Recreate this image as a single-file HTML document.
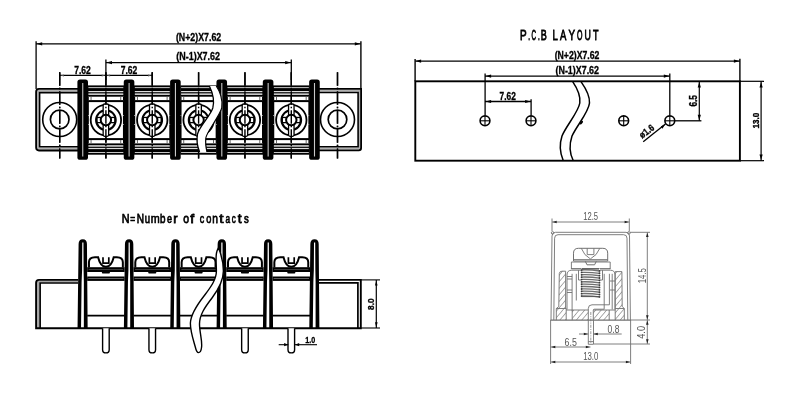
<!DOCTYPE html>
<html><head><meta charset="utf-8"><style>
html,body{margin:0;padding:0;background:#fff;width:800px;height:407px;overflow:hidden;}
svg{display:block;}
text{-webkit-font-smoothing:antialiased;}
svg{will-change:transform;}
</style></head><body>
<svg width="800" height="407" viewBox="0 0 800 407" font-family="Liberation Sans, sans-serif">
<rect width="800" height="407" fill="#fff"/>
<g id="top">
<line x1="59.70" y1="72.3" x2="59.70" y2="158.4" stroke="#000" stroke-width="1.4" stroke-dasharray="13.5 2 1.5 2"/>
<line x1="337.50" y1="72.3" x2="337.50" y2="158.4" stroke="#000" stroke-width="1.4" stroke-dasharray="13.5 2 1.5 2"/>
<line x1="105.90" y1="72.3" x2="105.90" y2="158.4" stroke="#000" stroke-width="1.4" stroke-dasharray="13.5 2 1.5 2"/>
<line x1="152.25" y1="72.3" x2="152.25" y2="158.4" stroke="#000" stroke-width="1.4" stroke-dasharray="13.5 2 1.5 2"/>
<line x1="198.60" y1="72.3" x2="198.60" y2="158.4" stroke="#000" stroke-width="1.4" stroke-dasharray="13.5 2 1.5 2"/>
<line x1="244.95" y1="72.3" x2="244.95" y2="158.4" stroke="#000" stroke-width="1.4" stroke-dasharray="13.5 2 1.5 2"/>
<line x1="291.30" y1="72.3" x2="291.30" y2="158.4" stroke="#000" stroke-width="1.4" stroke-dasharray="13.5 2 1.5 2"/>
<path d="M78 90.75 L37.9 90.75 L37.9 148.6 L78 148.6" fill="none" stroke="#b0b0b0" stroke-width="2.2"/>
<path d="M78 88.9 L39 88.9 Q36.1 88.9 36.1 91.8 L36.1 147.6 Q36.1 150.5 39 150.5 L78 150.5" fill="none" stroke="#000" stroke-width="1.8"/>
<path d="M78 92.6 L39.6 92.6 L39.6 146.7 L78 146.7" fill="none" stroke="#000" stroke-width="1.6"/>
<path d="M319 90.75 L359.6 90.75 L359.6 148.5 L319 148.5" fill="none" stroke="#b0b0b0" stroke-width="2.2"/>
<path d="M319 88.9 L361.1 88.9 L361.1 148 Q361.1 150.3 358.8 150.3 L319 150.3" fill="none" stroke="#000" stroke-width="1.8"/>
<path d="M319 92.5 L358.1 92.5 L358.1 146.7 L319 146.7" fill="none" stroke="#000" stroke-width="1.6"/>
<circle cx="59.7" cy="119.5" r="17" fill="none" stroke="#000" stroke-width="1.6"/>
<circle cx="59.7" cy="119.5" r="9.3" fill="none" stroke="#000" stroke-width="1.7"/>
<line x1="59.70" y1="72.3" x2="59.70" y2="158.4" stroke="#000" stroke-width="1.4" stroke-dasharray="13.5 2 1.5 2"/>
<circle cx="337.5" cy="119.5" r="17" fill="none" stroke="#000" stroke-width="1.6"/>
<circle cx="337.5" cy="119.5" r="9.3" fill="none" stroke="#000" stroke-width="1.7"/>
<line x1="337.50" y1="72.3" x2="337.50" y2="158.4" stroke="#000" stroke-width="1.4" stroke-dasharray="13.5 2 1.5 2"/>
<rect x="87.60" y="85.4" width="36.60" height="11.3" fill="#000"/>
<rect x="88.40" y="87.2" width="35.00" height="0.9" fill="#ddd"/>
<rect x="88.40" y="91.0" width="35.00" height="1.2" fill="#ddd"/>
<rect x="88.40" y="93.4" width="35.00" height="1.5" fill="#ddd"/>
<rect x="87.60" y="100.1" width="36.60" height="2" fill="#000"/>
<rect x="87.60" y="96.7" width="1.2" height="3.4" fill="#000"/>
<rect x="123.00" y="96.7" width="1.2" height="3.4" fill="#000"/>
<rect x="90.60" y="96.7" width="0.9" height="3.4" fill="#555"/>
<rect x="120.30" y="96.7" width="0.9" height="3.4" fill="#555"/>
<rect x="87.60" y="138.10" width="36.60" height="2" fill="#000"/>
<rect x="87.60" y="143.40" width="36.60" height="11.3" fill="#000"/>
<rect x="88.40" y="152.00" width="35.00" height="0.9" fill="#ddd"/>
<rect x="88.40" y="147.90" width="35.00" height="1.2" fill="#ddd"/>
<rect x="88.40" y="145.20" width="35.00" height="1.5" fill="#ddd"/>
<rect x="87.60" y="140.00" width="1.2" height="3.4" fill="#000"/>
<rect x="123.00" y="140.00" width="1.2" height="3.4" fill="#000"/>
<rect x="90.60" y="140.00" width="0.9" height="3.4" fill="#555"/>
<rect x="120.30" y="140.00" width="0.9" height="3.4" fill="#555"/>
<circle cx="105.90" cy="120.05" r="15.2" fill="none" stroke="#000" stroke-width="1.8"/>
<rect x="96.90" y="117.45" width="18" height="5.2" fill="#fff" stroke="#000" stroke-width="1.3"/>
<circle cx="105.90" cy="120.05" r="9.8" fill="none" stroke="#000" stroke-width="2.1"/>
<rect x="103.15" y="104" width="5.5" height="32.3" rx="1.5" fill="#fff" stroke="#000" stroke-width="1.3"/>
<circle cx="105.90" cy="120.05" r="5.2" fill="#fff" stroke="#000" stroke-width="2"/>
<line x1="88.00" y1="101.5" x2="88.00" y2="138.6" stroke="#000" stroke-width="1.7"/>
<rect x="87.50" y="115" width="1" height="1" fill="#fff"/>
<rect x="87.50" y="124" width="1" height="1" fill="#fff"/>
<line x1="123.80" y1="101.5" x2="123.80" y2="138.6" stroke="#000" stroke-width="1.7"/>
<rect x="123.30" y="115" width="1" height="1" fill="#fff"/>
<rect x="123.30" y="124" width="1" height="1" fill="#fff"/>
<line x1="105.90" y1="72.3" x2="105.90" y2="158.4" stroke="#000" stroke-width="1.4" stroke-dasharray="13.5 2 1.5 2"/>
<rect x="133.95" y="85.4" width="36.60" height="11.3" fill="#000"/>
<rect x="134.75" y="87.2" width="35.00" height="0.9" fill="#ddd"/>
<rect x="134.75" y="91.0" width="35.00" height="1.2" fill="#ddd"/>
<rect x="134.75" y="93.4" width="35.00" height="1.5" fill="#ddd"/>
<rect x="133.95" y="100.1" width="36.60" height="2" fill="#000"/>
<rect x="133.95" y="96.7" width="1.2" height="3.4" fill="#000"/>
<rect x="169.35" y="96.7" width="1.2" height="3.4" fill="#000"/>
<rect x="136.95" y="96.7" width="0.9" height="3.4" fill="#555"/>
<rect x="166.65" y="96.7" width="0.9" height="3.4" fill="#555"/>
<rect x="133.95" y="138.10" width="36.60" height="2" fill="#000"/>
<rect x="133.95" y="143.40" width="36.60" height="11.3" fill="#000"/>
<rect x="134.75" y="152.00" width="35.00" height="0.9" fill="#ddd"/>
<rect x="134.75" y="147.90" width="35.00" height="1.2" fill="#ddd"/>
<rect x="134.75" y="145.20" width="35.00" height="1.5" fill="#ddd"/>
<rect x="133.95" y="140.00" width="1.2" height="3.4" fill="#000"/>
<rect x="169.35" y="140.00" width="1.2" height="3.4" fill="#000"/>
<rect x="136.95" y="140.00" width="0.9" height="3.4" fill="#555"/>
<rect x="166.65" y="140.00" width="0.9" height="3.4" fill="#555"/>
<circle cx="152.25" cy="120.05" r="15.2" fill="none" stroke="#000" stroke-width="1.8"/>
<rect x="143.25" y="117.45" width="18" height="5.2" fill="#fff" stroke="#000" stroke-width="1.3"/>
<circle cx="152.25" cy="120.05" r="9.8" fill="none" stroke="#000" stroke-width="2.1"/>
<rect x="149.50" y="104" width="5.5" height="32.3" rx="1.5" fill="#fff" stroke="#000" stroke-width="1.3"/>
<circle cx="152.25" cy="120.05" r="5.2" fill="#fff" stroke="#000" stroke-width="2"/>
<line x1="134.35" y1="101.5" x2="134.35" y2="138.6" stroke="#000" stroke-width="1.7"/>
<rect x="133.85" y="115" width="1" height="1" fill="#fff"/>
<rect x="133.85" y="124" width="1" height="1" fill="#fff"/>
<line x1="170.15" y1="101.5" x2="170.15" y2="138.6" stroke="#000" stroke-width="1.7"/>
<rect x="169.65" y="115" width="1" height="1" fill="#fff"/>
<rect x="169.65" y="124" width="1" height="1" fill="#fff"/>
<line x1="152.25" y1="72.3" x2="152.25" y2="158.4" stroke="#000" stroke-width="1.4" stroke-dasharray="13.5 2 1.5 2"/>
<rect x="180.30" y="85.4" width="36.60" height="11.3" fill="#000"/>
<rect x="181.10" y="87.2" width="35.00" height="0.9" fill="#ddd"/>
<rect x="181.10" y="91.0" width="35.00" height="1.2" fill="#ddd"/>
<rect x="181.10" y="93.4" width="35.00" height="1.5" fill="#ddd"/>
<rect x="180.30" y="100.1" width="36.60" height="2" fill="#000"/>
<rect x="180.30" y="96.7" width="1.2" height="3.4" fill="#000"/>
<rect x="215.70" y="96.7" width="1.2" height="3.4" fill="#000"/>
<rect x="183.30" y="96.7" width="0.9" height="3.4" fill="#555"/>
<rect x="213.00" y="96.7" width="0.9" height="3.4" fill="#555"/>
<rect x="180.30" y="138.10" width="36.60" height="2" fill="#000"/>
<rect x="180.30" y="143.40" width="36.60" height="11.3" fill="#000"/>
<rect x="181.10" y="152.00" width="35.00" height="0.9" fill="#ddd"/>
<rect x="181.10" y="147.90" width="35.00" height="1.2" fill="#ddd"/>
<rect x="181.10" y="145.20" width="35.00" height="1.5" fill="#ddd"/>
<rect x="180.30" y="140.00" width="1.2" height="3.4" fill="#000"/>
<rect x="215.70" y="140.00" width="1.2" height="3.4" fill="#000"/>
<rect x="183.30" y="140.00" width="0.9" height="3.4" fill="#555"/>
<rect x="213.00" y="140.00" width="0.9" height="3.4" fill="#555"/>
<circle cx="198.60" cy="120.05" r="15.2" fill="none" stroke="#000" stroke-width="1.8"/>
<rect x="189.60" y="117.45" width="18" height="5.2" fill="#fff" stroke="#000" stroke-width="1.3"/>
<circle cx="198.60" cy="120.05" r="9.8" fill="none" stroke="#000" stroke-width="2.1"/>
<rect x="195.85" y="104" width="5.5" height="32.3" rx="1.5" fill="#fff" stroke="#000" stroke-width="1.3"/>
<circle cx="198.60" cy="120.05" r="5.2" fill="#fff" stroke="#000" stroke-width="2"/>
<line x1="180.70" y1="101.5" x2="180.70" y2="138.6" stroke="#000" stroke-width="1.7"/>
<rect x="180.20" y="115" width="1" height="1" fill="#fff"/>
<rect x="180.20" y="124" width="1" height="1" fill="#fff"/>
<line x1="216.50" y1="101.5" x2="216.50" y2="138.6" stroke="#000" stroke-width="1.7"/>
<rect x="216.00" y="115" width="1" height="1" fill="#fff"/>
<rect x="216.00" y="124" width="1" height="1" fill="#fff"/>
<line x1="198.60" y1="72.3" x2="198.60" y2="158.4" stroke="#000" stroke-width="1.4" stroke-dasharray="13.5 2 1.5 2"/>
<rect x="226.65" y="85.4" width="36.60" height="11.3" fill="#000"/>
<rect x="227.45" y="87.2" width="35.00" height="0.9" fill="#ddd"/>
<rect x="227.45" y="91.0" width="35.00" height="1.2" fill="#ddd"/>
<rect x="227.45" y="93.4" width="35.00" height="1.5" fill="#ddd"/>
<rect x="226.65" y="100.1" width="36.60" height="2" fill="#000"/>
<rect x="226.65" y="96.7" width="1.2" height="3.4" fill="#000"/>
<rect x="262.05" y="96.7" width="1.2" height="3.4" fill="#000"/>
<rect x="229.65" y="96.7" width="0.9" height="3.4" fill="#555"/>
<rect x="259.35" y="96.7" width="0.9" height="3.4" fill="#555"/>
<rect x="226.65" y="138.10" width="36.60" height="2" fill="#000"/>
<rect x="226.65" y="143.40" width="36.60" height="11.3" fill="#000"/>
<rect x="227.45" y="152.00" width="35.00" height="0.9" fill="#ddd"/>
<rect x="227.45" y="147.90" width="35.00" height="1.2" fill="#ddd"/>
<rect x="227.45" y="145.20" width="35.00" height="1.5" fill="#ddd"/>
<rect x="226.65" y="140.00" width="1.2" height="3.4" fill="#000"/>
<rect x="262.05" y="140.00" width="1.2" height="3.4" fill="#000"/>
<rect x="229.65" y="140.00" width="0.9" height="3.4" fill="#555"/>
<rect x="259.35" y="140.00" width="0.9" height="3.4" fill="#555"/>
<circle cx="244.95" cy="120.05" r="15.2" fill="none" stroke="#000" stroke-width="1.8"/>
<rect x="235.95" y="117.45" width="18" height="5.2" fill="#fff" stroke="#000" stroke-width="1.3"/>
<circle cx="244.95" cy="120.05" r="9.8" fill="none" stroke="#000" stroke-width="2.1"/>
<rect x="242.20" y="104" width="5.5" height="32.3" rx="1.5" fill="#fff" stroke="#000" stroke-width="1.3"/>
<circle cx="244.95" cy="120.05" r="5.2" fill="#fff" stroke="#000" stroke-width="2"/>
<line x1="227.05" y1="101.5" x2="227.05" y2="138.6" stroke="#000" stroke-width="1.7"/>
<rect x="226.55" y="115" width="1" height="1" fill="#fff"/>
<rect x="226.55" y="124" width="1" height="1" fill="#fff"/>
<line x1="262.85" y1="101.5" x2="262.85" y2="138.6" stroke="#000" stroke-width="1.7"/>
<rect x="262.35" y="115" width="1" height="1" fill="#fff"/>
<rect x="262.35" y="124" width="1" height="1" fill="#fff"/>
<line x1="244.95" y1="72.3" x2="244.95" y2="158.4" stroke="#000" stroke-width="1.4" stroke-dasharray="13.5 2 1.5 2"/>
<rect x="273.00" y="85.4" width="36.60" height="11.3" fill="#000"/>
<rect x="273.80" y="87.2" width="35.00" height="0.9" fill="#ddd"/>
<rect x="273.80" y="91.0" width="35.00" height="1.2" fill="#ddd"/>
<rect x="273.80" y="93.4" width="35.00" height="1.5" fill="#ddd"/>
<rect x="273.00" y="100.1" width="36.60" height="2" fill="#000"/>
<rect x="273.00" y="96.7" width="1.2" height="3.4" fill="#000"/>
<rect x="308.40" y="96.7" width="1.2" height="3.4" fill="#000"/>
<rect x="276.00" y="96.7" width="0.9" height="3.4" fill="#555"/>
<rect x="305.70" y="96.7" width="0.9" height="3.4" fill="#555"/>
<rect x="273.00" y="138.10" width="36.60" height="2" fill="#000"/>
<rect x="273.00" y="143.40" width="36.60" height="11.3" fill="#000"/>
<rect x="273.80" y="152.00" width="35.00" height="0.9" fill="#ddd"/>
<rect x="273.80" y="147.90" width="35.00" height="1.2" fill="#ddd"/>
<rect x="273.80" y="145.20" width="35.00" height="1.5" fill="#ddd"/>
<rect x="273.00" y="140.00" width="1.2" height="3.4" fill="#000"/>
<rect x="308.40" y="140.00" width="1.2" height="3.4" fill="#000"/>
<rect x="276.00" y="140.00" width="0.9" height="3.4" fill="#555"/>
<rect x="305.70" y="140.00" width="0.9" height="3.4" fill="#555"/>
<circle cx="291.30" cy="120.05" r="15.2" fill="none" stroke="#000" stroke-width="1.8"/>
<rect x="282.30" y="117.45" width="18" height="5.2" fill="#fff" stroke="#000" stroke-width="1.3"/>
<circle cx="291.30" cy="120.05" r="9.8" fill="none" stroke="#000" stroke-width="2.1"/>
<rect x="288.55" y="104" width="5.5" height="32.3" rx="1.5" fill="#fff" stroke="#000" stroke-width="1.3"/>
<circle cx="291.30" cy="120.05" r="5.2" fill="#fff" stroke="#000" stroke-width="2"/>
<line x1="273.40" y1="101.5" x2="273.40" y2="138.6" stroke="#000" stroke-width="1.7"/>
<rect x="272.90" y="115" width="1" height="1" fill="#fff"/>
<rect x="272.90" y="124" width="1" height="1" fill="#fff"/>
<line x1="309.20" y1="101.5" x2="309.20" y2="138.6" stroke="#000" stroke-width="1.7"/>
<rect x="308.70" y="115" width="1" height="1" fill="#fff"/>
<rect x="308.70" y="124" width="1" height="1" fill="#fff"/>
<line x1="291.30" y1="72.3" x2="291.30" y2="158.4" stroke="#000" stroke-width="1.4" stroke-dasharray="13.5 2 1.5 2"/>
<rect x="77.40" y="79.4" width="10.6" height="80.4" rx="2.6" fill="#000"/>
<rect x="82.20" y="83" width="1.1" height="73.5" fill="#c8c8c8"/>
<rect x="123.75" y="79.4" width="10.6" height="80.4" rx="2.6" fill="#000"/>
<rect x="128.55" y="83" width="1.1" height="73.5" fill="#c8c8c8"/>
<rect x="170.10" y="79.4" width="10.6" height="80.4" rx="2.6" fill="#000"/>
<rect x="174.90" y="83" width="1.1" height="73.5" fill="#c8c8c8"/>
<rect x="216.45" y="79.4" width="10.6" height="80.4" rx="2.6" fill="#000"/>
<rect x="221.25" y="83" width="1.1" height="73.5" fill="#c8c8c8"/>
<rect x="262.80" y="79.4" width="10.6" height="80.4" rx="2.6" fill="#000"/>
<rect x="267.60" y="83" width="1.1" height="73.5" fill="#c8c8c8"/>
<rect x="309.15" y="79.4" width="10.6" height="80.4" rx="2.6" fill="#000"/>
<rect x="313.95" y="83" width="1.1" height="73.5" fill="#c8c8c8"/>
<path d="M209.4 86 C 212.3 92, 214.8 100, 212.8 108 C 210.3 116, 199.5 126, 197.5 134 C 196.6 139, 197.5 147, 199.6 152 L206.9 152 C 206 148, 205.3 142, 205.8 138 C 206.5 132, 219.7 116, 221.7 108 C 223.2 100, 219.7 91, 216.2 86 Z" fill="#fff" stroke="none"/>
<path d="M209.4 86 C 212.3 92, 214.8 100, 212.8 108 C 210.3 116, 199.5 126, 197.5 134 C 196.6 139, 197.5 147, 199.6 152" fill="none" stroke="#000" stroke-width="1.3"/>
<path d="M206.9 152 C 206 148, 205.3 142, 205.8 138 C 206.5 132, 219.7 116, 221.7 108 C 223.2 100, 219.7 91, 216.2 86" fill="none" stroke="#000" stroke-width="1.1"/>
<line x1="36" y1="43.8" x2="360.6" y2="43.8" stroke="#000" stroke-width="1.3"/>
<polygon points="36.6,43.8 42.2,42.199999999999996 42.2,45.4" fill="#000" stroke="none"/>
<polygon points="360.4,43.8 354.79999999999995,42.199999999999996 354.79999999999995,45.4" fill="#000" stroke="none"/>
<line x1="36.1" y1="41.2" x2="36.1" y2="89" stroke="#000" stroke-width="1.3"/>
<line x1="360.9" y1="41.2" x2="360.9" y2="89" stroke="#000" stroke-width="1.4"/>
<line x1="105.9" y1="62.6" x2="291.3" y2="62.6" stroke="#000" stroke-width="1.3"/>
<polygon points="106.4,62.6 112.0,61.0 112.0,64.2" fill="#000" stroke="none"/>
<polygon points="290.8,62.6 285.2,61.0 285.2,64.2" fill="#000" stroke="none"/>
<line x1="105.9" y1="59.5" x2="105.9" y2="80" stroke="#000" stroke-width="1.3"/>
<line x1="291.3" y1="59.5" x2="291.3" y2="80" stroke="#000" stroke-width="1.3"/>
<line x1="59.5" y1="75.4" x2="152.3" y2="75.4" stroke="#000" stroke-width="1.2"/>
<polygon points="60.3,75.4 63.9,74.4 63.9,76.4" fill="#555" stroke="none"/>
<polygon points="105.3,75.4 101.7,74.4 101.7,76.4" fill="#555" stroke="none"/>
<polygon points="106.5,75.4 110.1,74.4 110.1,76.4" fill="#555" stroke="none"/>
<polygon points="151.7,75.4 148.1,74.4 148.1,76.4" fill="#555" stroke="none"/>
<line x1="59.6" y1="72.5" x2="59.6" y2="80" stroke="#000" stroke-width="1.1"/>
<line x1="152.3" y1="72.5" x2="152.3" y2="80" stroke="#000" stroke-width="1.1"/>
</g>
<text x="175.9" y="41.2" font-family="Liberation Sans, sans-serif" font-weight="bold" font-size="10.2" stroke="#000" stroke-width="0.3" textLength="45.3" lengthAdjust="spacingAndGlyphs">(N+2)X7.62</text>
<text x="176.3" y="60.4" font-family="Liberation Sans, sans-serif" font-weight="bold" font-size="10.2" stroke="#000" stroke-width="0.3" textLength="43.7" lengthAdjust="spacingAndGlyphs">(N-1)X7.62</text>
<text x="74.2" y="73.9" font-family="Liberation Sans, sans-serif" font-weight="bold" font-size="10.2" stroke="#000" stroke-width="0.3" textLength="16.6" lengthAdjust="spacingAndGlyphs">7.62</text>
<text x="120.7" y="73.9" font-family="Liberation Sans, sans-serif" font-weight="bold" font-size="10.2" stroke="#000" stroke-width="0.3" textLength="16.6" lengthAdjust="spacingAndGlyphs">7.62</text>
<g id="pcb" stroke="#000" fill="none">
<rect x="415.3" y="81.3" width="324.6" height="79.4" stroke-width="1.9"/>
<line x1="740" y1="81.3" x2="764" y2="81.3" stroke-width="1.2"/>
<line x1="740" y1="160.7" x2="764" y2="160.7" stroke-width="1.2"/>
<line x1="415.3" y1="61.1" x2="739.9" y2="61.1" stroke-width="1.3"/>
<line x1="415.1" y1="59" x2="415.1" y2="81.3" stroke-width="1.4"/>
<line x1="739.9" y1="58.8" x2="739.9" y2="81.3" stroke-width="1.4"/>
<line x1="485" y1="76.1" x2="669.8" y2="76.1" stroke-width="1.3"/>
<line x1="485.1" y1="73.5" x2="485.1" y2="115.5" stroke-width="1.3"/>
<line x1="669.8" y1="73.5" x2="669.8" y2="115.5" stroke-width="1.3"/>
<line x1="485" y1="101.5" x2="531.1" y2="101.5" stroke-width="1.3"/>
<line x1="531.1" y1="99.2" x2="531.1" y2="115.5" stroke-width="1.3"/>
<circle cx="485.0" cy="120.8" r="4.9" stroke-width="1.6"/>
<line x1="480.2" y1="120.8" x2="489.8" y2="120.8" stroke-width="1.1"/>
<line x1="485.0" y1="116.0" x2="485.0" y2="125.6" stroke-width="1.1"/>
<circle cx="531.0" cy="120.8" r="4.9" stroke-width="1.6"/>
<line x1="526.2" y1="120.8" x2="535.8" y2="120.8" stroke-width="1.1"/>
<line x1="531.0" y1="116.0" x2="531.0" y2="125.6" stroke-width="1.1"/>
<circle cx="623.7" cy="120.8" r="4.9" stroke-width="1.6"/>
<line x1="618.9000000000001" y1="120.8" x2="628.5" y2="120.8" stroke-width="1.1"/>
<line x1="623.7" y1="116.0" x2="623.7" y2="125.6" stroke-width="1.1"/>
<circle cx="669.8" cy="120.8" r="4.9" stroke-width="1.6"/>
<line x1="665.0" y1="120.8" x2="674.5999999999999" y2="120.8" stroke-width="1.1"/>
<line x1="669.8" y1="116.0" x2="669.8" y2="125.6" stroke-width="1.1"/>
<line x1="675" y1="120.8" x2="701.4" y2="120.8" stroke-width="1.3"/>
<line x1="699.3" y1="81.3" x2="699.3" y2="120.8" stroke-width="1.2"/>
<line x1="761.1" y1="81.3" x2="761.1" y2="160.7" stroke-width="1.2"/>
<path d="M572.7 81.6 C 577 88, 581 95, 579.8 103 C 578.5 112, 566 126, 562 136 C 559 145, 560 153, 563.2 160.5" stroke-width="1.5"/>
<path d="M581 81.6 C 585.5 88, 590 95, 589.5 103 C 588.8 112, 576.5 126, 572 136 C 569 145, 569.5 153, 573.2 160.5" stroke-width="1.5"/>
<ellipse cx="581.4" cy="122.6" rx="1.1" ry="2.2" transform="rotate(40 581.4 122.6)" fill="#000" stroke="none"/>
<line x1="665.5" y1="124.1" x2="643.2" y2="141.8" stroke-width="1.3"/>
</g>
<polygon points="415.5,61.1 421.1,59.5 421.1,62.7" fill="#000" stroke="none"/>
<polygon points="739.5,61.1 733.9,59.5 733.9,62.7" fill="#000" stroke="none"/>
<polygon points="485.5,76.1 491.1,74.5 491.1,77.69999999999999" fill="#000" stroke="none"/>
<polygon points="669.4,76.1 663.8,74.5 663.8,77.69999999999999" fill="#000" stroke="none"/>
<polygon points="485.5,101.5 491.1,99.9 491.1,103.1" fill="#000" stroke="none"/>
<polygon points="530.7,101.5 525.1,99.9 525.1,103.1" fill="#000" stroke="none"/>
<polygon points="699.3,81.9 697.6999999999999,87.5 700.9,87.5" fill="#000" stroke="none"/>
<polygon points="699.3,120.39999999999999 697.6999999999999,114.8 700.9,114.8" fill="#000" stroke="none"/>
<polygon points="761.1,81.9 759.5,87.5 762.7,87.5" fill="#000" stroke="none"/>
<polygon points="761.1,160.1 759.5,154.5 762.7,154.5" fill="#000" stroke="none"/>
<polygon points="665.3,124.1 660.8,126.6 662.5,128.7" fill="#000"/>
<text transform="translate(520.08,39.7) scale(0.711,1)" font-family="Liberation Sans, sans-serif" font-size="14" stroke="#000" stroke-width="0.8" >P</text>
<text transform="translate(528.22,39.7) scale(0.450,1)" font-family="Liberation Sans, sans-serif" font-size="14" stroke="#000" stroke-width="0.8" >.</text>
<text transform="translate(531.38,39.7) scale(0.451,1)" font-family="Liberation Sans, sans-serif" font-size="14" stroke="#000" stroke-width="0.8" >C</text>
<text transform="translate(537.92,39.7) scale(0.450,1)" font-family="Liberation Sans, sans-serif" font-size="14" stroke="#000" stroke-width="0.8" >.</text>
<text transform="translate(540.86,39.7) scale(0.644,1)" font-family="Liberation Sans, sans-serif" font-size="14" stroke="#000" stroke-width="0.8" >B</text>
<text transform="translate(552.42,39.7) scale(0.680,1)" font-family="Liberation Sans, sans-serif" font-size="14" stroke="#000" stroke-width="0.8" >L</text>
<text transform="translate(560.08,39.7) scale(0.679,1)" font-family="Liberation Sans, sans-serif" font-size="14" stroke="#000" stroke-width="0.8" >A</text>
<text transform="translate(568.48,39.7) scale(0.699,1)" font-family="Liberation Sans, sans-serif" font-size="14" stroke="#000" stroke-width="0.8" >Y</text>
<text transform="translate(577.07,39.7) scale(0.502,1)" font-family="Liberation Sans, sans-serif" font-size="14" stroke="#000" stroke-width="0.8" >O</text>
<text transform="translate(584.62,39.7) scale(0.629,1)" font-family="Liberation Sans, sans-serif" font-size="14" stroke="#000" stroke-width="0.8" >U</text>
<text transform="translate(592.90,39.7) scale(0.644,1)" font-family="Liberation Sans, sans-serif" font-size="14" stroke="#000" stroke-width="0.8" >T</text>
<text x="554.7" y="58.9" font-family="Liberation Sans, sans-serif" font-weight="bold" font-size="10.2" stroke="#000" stroke-width="0.3" textLength="44.7" lengthAdjust="spacingAndGlyphs">(N+2)X7.62</text>
<text x="555.5" y="73.5" font-family="Liberation Sans, sans-serif" font-weight="bold" font-size="10.2" stroke="#000" stroke-width="0.3" textLength="43.5" lengthAdjust="spacingAndGlyphs">(N-1)X7.62</text>
<text x="499.6" y="99.5" font-family="Liberation Sans, sans-serif" font-weight="bold" font-size="10.2" stroke="#000" stroke-width="0.3" textLength="16.2" lengthAdjust="spacingAndGlyphs">7.62</text>
<text transform="translate(697.2,106.6) rotate(-90)" font-family="Liberation Sans, sans-serif" font-weight="bold" font-size="10" stroke="#000" stroke-width="0.35" textLength="11.5" lengthAdjust="spacingAndGlyphs">6.5</text>
<text transform="translate(758.6,128.5) rotate(-90)" font-family="Liberation Sans, sans-serif" font-weight="bold" font-size="9.8" stroke="#000" stroke-width="0.35" textLength="15.7" lengthAdjust="spacingAndGlyphs">13.0</text>
<text transform="translate(642.3,138.8) rotate(-38)" font-family="Liberation Sans, sans-serif" font-weight="bold" font-size="9.6" stroke="#000" stroke-width="0.35" textLength="16" lengthAdjust="spacingAndGlyphs">ø1.6</text>
<text transform="translate(121.69,223.0) scale(0.796,1)" font-family="Liberation Sans, sans-serif" font-size="13.6" stroke="#000" stroke-width="0.75" >N</text>
<text transform="translate(130.37,223.0) scale(0.613,1)" font-family="Liberation Sans, sans-serif" font-size="13.6" stroke="#000" stroke-width="0.75" >=</text>
<text transform="translate(136.75,223.0) scale(0.744,1)" font-family="Liberation Sans, sans-serif" font-size="13.6" stroke="#000" stroke-width="0.75" >N</text>
<text transform="translate(144.76,223.0) scale(0.701,1)" font-family="Liberation Sans, sans-serif" font-size="13.6" stroke="#000" stroke-width="0.75" >u</text>
<text transform="translate(150.66,223.0) scale(0.792,1)" font-family="Liberation Sans, sans-serif" font-size="13.6" stroke="#000" stroke-width="0.75" >m</text>
<text transform="translate(160.04,223.0) scale(0.728,1)" font-family="Liberation Sans, sans-serif" font-size="13.6" stroke="#000" stroke-width="0.75" >b</text>
<text transform="translate(166.99,223.0) scale(0.666,1)" font-family="Liberation Sans, sans-serif" font-size="13.6" stroke="#000" stroke-width="0.75" >e</text>
<text transform="translate(173.31,223.0) scale(0.956,1)" font-family="Liberation Sans, sans-serif" font-size="13.6" stroke="#000" stroke-width="0.75" >r</text>
<text transform="translate(183.23,223.0) scale(0.771,1)" font-family="Liberation Sans, sans-serif" font-size="13.6" stroke="#000" stroke-width="0.75" >o</text>
<text transform="translate(190.27,223.0) scale(1.040,1)" font-family="Liberation Sans, sans-serif" font-size="13.6" stroke="#000" stroke-width="0.75" >f</text>
<text transform="translate(199.70,223.0) scale(0.657,1)" font-family="Liberation Sans, sans-serif" font-size="13.6" stroke="#000" stroke-width="0.75" >c</text>
<text transform="translate(206.19,223.0) scale(0.677,1)" font-family="Liberation Sans, sans-serif" font-size="13.6" stroke="#000" stroke-width="0.75" >o</text>
<text transform="translate(212.19,223.0) scale(0.753,1)" font-family="Liberation Sans, sans-serif" font-size="13.6" stroke="#000" stroke-width="0.75" >n</text>
<text transform="translate(219.34,223.0) scale(1.137,1)" font-family="Liberation Sans, sans-serif" font-size="13.6" stroke="#000" stroke-width="0.75" >t</text>
<text transform="translate(225.52,223.0) scale(0.608,1)" font-family="Liberation Sans, sans-serif" font-size="13.6" stroke="#000" stroke-width="0.75" >a</text>
<text transform="translate(231.84,223.0) scale(0.588,1)" font-family="Liberation Sans, sans-serif" font-size="13.6" stroke="#000" stroke-width="0.75" >c</text>
<text transform="translate(237.86,223.0) scale(1.022,1)" font-family="Liberation Sans, sans-serif" font-size="13.6" stroke="#000" stroke-width="0.75" >t</text>
<text transform="translate(243.91,223.0) scale(0.700,1)" font-family="Liberation Sans, sans-serif" font-size="13.6" stroke="#000" stroke-width="0.75" >s</text>
<g id="side">
<path d="M78 281.45 L38.1 281.45 L38.1 328" fill="none" stroke="#a8a8a8" stroke-width="2"/>
<path d="M78 279.9 L39 279.9 Q36.1 279.9 36.1 282.8 L36.1 328.2 L360.8 328.2 L360.8 279.9 L319 279.9" fill="none" stroke="#000" stroke-width="1.9"/>
<path d="M78 283 L40.1 283 L40.1 328" fill="none" stroke="#000" stroke-width="1.7"/>
<path d="M319 282.9 L357.9 282.9 L357.9 328" fill="none" stroke="#000" stroke-width="1.7"/>
<line x1="87.2" y1="315.6" x2="124.60000000000001" y2="315.6" stroke="#000" stroke-width="1.6"/>
<path d="M88.95 267.6 L88.95 262.20 C 88.95 258.70, 91.45 257.20, 94.95 257.20 L98.10 257.20 Q100.40 266.8 105.90 266.8 Q111.40 266.8 113.70 257.20 L116.85 257.20 C 120.35 257.20, 122.85 258.70, 122.85 262.20 L122.85 267.6" fill="#fff" stroke="#000" stroke-width="2"/>
<path d="M103.00 257.20 L103.00 263.2 L108.80 263.2 L108.80 257.20" fill="none" stroke="#000" stroke-width="1.7"/>
<rect x="87.20" y="267.2" width="37.40" height="4.8" fill="#000"/>
<rect x="88.70" y="269.4" width="34.40" height="0.6" fill="#666"/>
<rect x="87.20" y="276.5" width="37.40" height="4.4" fill="#000"/>
<rect x="88.20" y="278.0" width="35.40" height="0.7" fill="#888"/>
<rect x="101.90" y="270" width="8" height="3.6" rx="0.8" fill="#000"/>
<path d="M102.60 328.2 L102.60 349.7 Q102.60 352.9 105.90 352.9 Q109.20 352.9 109.20 349.7 L109.20 328.2" fill="#fff" stroke="#000" stroke-width="1.4"/>
<line x1="133.55" y1="315.6" x2="170.95" y2="315.6" stroke="#000" stroke-width="1.6"/>
<path d="M135.30 267.6 L135.30 262.20 C 135.30 258.70, 137.80 257.20, 141.30 257.20 L144.45 257.20 Q146.75 266.8 152.25 266.8 Q157.75 266.8 160.05 257.20 L163.20 257.20 C 166.70 257.20, 169.20 258.70, 169.20 262.20 L169.20 267.6" fill="#fff" stroke="#000" stroke-width="2"/>
<path d="M149.35 257.20 L149.35 263.2 L155.15 263.2 L155.15 257.20" fill="none" stroke="#000" stroke-width="1.7"/>
<rect x="133.55" y="267.2" width="37.40" height="4.8" fill="#000"/>
<rect x="135.05" y="269.4" width="34.40" height="0.6" fill="#666"/>
<rect x="133.55" y="276.5" width="37.40" height="4.4" fill="#000"/>
<rect x="134.55" y="278.0" width="35.40" height="0.7" fill="#888"/>
<rect x="148.25" y="270" width="8" height="3.6" rx="0.8" fill="#000"/>
<path d="M148.95 328.2 L148.95 349.7 Q148.95 352.9 152.25 352.9 Q155.55 352.9 155.55 349.7 L155.55 328.2" fill="#fff" stroke="#000" stroke-width="1.4"/>
<line x1="179.90000000000003" y1="315.6" x2="217.3" y2="315.6" stroke="#000" stroke-width="1.6"/>
<path d="M181.65 267.6 L181.65 262.20 C 181.65 258.70, 184.15 257.20, 187.65 257.20 L190.80 257.20 Q193.10 266.8 198.60 266.8 Q204.10 266.8 206.40 257.20 L209.55 257.20 C 213.05 257.20, 215.55 258.70, 215.55 262.20 L215.55 267.6" fill="#fff" stroke="#000" stroke-width="2"/>
<path d="M195.70 257.20 L195.70 263.2 L201.50 263.2 L201.50 257.20" fill="none" stroke="#000" stroke-width="1.7"/>
<rect x="179.90" y="267.2" width="37.40" height="4.8" fill="#000"/>
<rect x="181.40" y="269.4" width="34.40" height="0.6" fill="#666"/>
<rect x="179.90" y="276.5" width="37.40" height="4.4" fill="#000"/>
<rect x="180.90" y="278.0" width="35.40" height="0.7" fill="#888"/>
<rect x="194.60" y="270" width="8" height="3.6" rx="0.8" fill="#000"/>
<line x1="226.25000000000003" y1="315.6" x2="263.65000000000003" y2="315.6" stroke="#000" stroke-width="1.6"/>
<path d="M228.00 267.6 L228.00 262.20 C 228.00 258.70, 230.50 257.20, 234.00 257.20 L237.15 257.20 Q239.45 266.8 244.95 266.8 Q250.45 266.8 252.75 257.20 L255.90 257.20 C 259.40 257.20, 261.90 258.70, 261.90 262.20 L261.90 267.6" fill="#fff" stroke="#000" stroke-width="2"/>
<path d="M242.05 257.20 L242.05 263.2 L247.85 263.2 L247.85 257.20" fill="none" stroke="#000" stroke-width="1.7"/>
<rect x="226.25" y="267.2" width="37.40" height="4.8" fill="#000"/>
<rect x="227.75" y="269.4" width="34.40" height="0.6" fill="#666"/>
<rect x="226.25" y="276.5" width="37.40" height="4.4" fill="#000"/>
<rect x="227.25" y="278.0" width="35.40" height="0.7" fill="#888"/>
<rect x="240.95" y="270" width="8" height="3.6" rx="0.8" fill="#000"/>
<path d="M241.65 328.2 L241.65 349.7 Q241.65 352.9 244.95 352.9 Q248.25 352.9 248.25 349.7 L248.25 328.2" fill="#fff" stroke="#000" stroke-width="1.4"/>
<line x1="272.6" y1="315.6" x2="310.0" y2="315.6" stroke="#000" stroke-width="1.6"/>
<path d="M274.35 267.6 L274.35 262.20 C 274.35 258.70, 276.85 257.20, 280.35 257.20 L283.50 257.20 Q285.80 266.8 291.30 266.8 Q296.80 266.8 299.10 257.20 L302.25 257.20 C 305.75 257.20, 308.25 258.70, 308.25 262.20 L308.25 267.6" fill="#fff" stroke="#000" stroke-width="2"/>
<path d="M288.40 257.20 L288.40 263.2 L294.20 263.2 L294.20 257.20" fill="none" stroke="#000" stroke-width="1.7"/>
<rect x="272.60" y="267.2" width="37.40" height="4.8" fill="#000"/>
<rect x="274.10" y="269.4" width="34.40" height="0.6" fill="#666"/>
<rect x="272.60" y="276.5" width="37.40" height="4.4" fill="#000"/>
<rect x="273.60" y="278.0" width="35.40" height="0.7" fill="#888"/>
<rect x="287.30" y="270" width="8" height="3.6" rx="0.8" fill="#000"/>
<path d="M288.00 328.2 L288.00 349.7 Q288.00 352.9 291.30 352.9 Q294.60 352.9 294.60 349.7 L294.60 328.2" fill="#fff" stroke="#000" stroke-width="1.4"/>
<path d="M77.55 328.2 L78.60 244 Q78.60 239.3 82.80 239.3 Q86.95 239.3 86.95 244 L87.65 328.2 Z" fill="#000"/>
<path d="M82.25 242.5 L83.45 242.5 L83.60 270 L83.85 282 L83.85 327.3 L81.05 327.3 L81.60 282 L82.10 270 Z" fill="#fff"/>
<path d="M123.90 328.2 L124.95 244 Q124.95 239.3 129.15 239.3 Q133.30 239.3 133.30 244 L134.00 328.2 Z" fill="#000"/>
<path d="M128.60 242.5 L129.80 242.5 L129.95 270 L130.20 282 L130.20 327.3 L127.40 327.3 L127.95 282 L128.45 270 Z" fill="#fff"/>
<path d="M170.25 328.2 L171.30 244 Q171.30 239.3 175.50 239.3 Q179.65 239.3 179.65 244 L180.35 328.2 Z" fill="#000"/>
<path d="M174.95 242.5 L176.15 242.5 L176.30 270 L176.55 282 L176.55 327.3 L173.75 327.3 L174.30 282 L174.80 270 Z" fill="#fff"/>
<path d="M216.60 328.2 L217.65 244 Q217.65 239.3 221.85 239.3 Q226.00 239.3 226.00 244 L226.70 328.2 Z" fill="#000"/>
<path d="M221.30 242.5 L222.50 242.5 L222.65 270 L222.90 282 L222.90 327.3 L220.10 327.3 L220.65 282 L221.15 270 Z" fill="#fff"/>
<path d="M262.95 328.2 L264.00 244 Q264.00 239.3 268.20 239.3 Q272.35 239.3 272.35 244 L273.05 328.2 Z" fill="#000"/>
<path d="M267.65 242.5 L268.85 242.5 L269.00 270 L269.25 282 L269.25 327.3 L266.45 327.3 L267.00 282 L267.50 270 Z" fill="#fff"/>
<path d="M309.30 328.2 L310.35 244 Q310.35 239.3 314.55 239.3 Q318.70 239.3 318.70 244 L319.40 328.2 Z" fill="#000"/>
<path d="M314.00 242.5 L315.20 242.5 L315.35 270 L315.60 282 L315.60 327.3 L312.80 327.3 L313.35 282 L313.85 270 Z" fill="#fff"/>
<path d="M218.5 248 C 221 254, 223.4 262, 223.4 271 C 223.4 280, 218 290, 212 298 C 205 307, 199.5 315, 199.5 324 C 199.5 332, 202.3 340, 201.6 347 C 201.2 351, 199.8 352.6, 198.4 352.6 C 197 352.6, 196 350, 195.3 347 C 193 339, 190.2 331, 190.4 323 C 190.8 314, 197 305, 204 296 C 210 288, 216.4 280, 216.4 271 C 216.4 264, 215.5 258, 216.5 253 C 217 250.5, 217.8 249, 218.5 248 Z" fill="#fff" stroke="#000" stroke-width="1.4"/>
<line x1="361" y1="279.9" x2="380" y2="279.9" stroke="#000" stroke-width="1.1"/>
<line x1="361" y1="328" x2="380" y2="328" stroke="#000" stroke-width="1.1"/>
<line x1="376.3" y1="279.9" x2="376.3" y2="328" stroke="#000" stroke-width="1.2"/>
<polygon points="376.3,280.4 375.0,285.59999999999997 377.6,285.59999999999997" fill="#000" stroke="none"/>
<polygon points="376.3,327.5 375.0,322.3 377.6,322.3" fill="#000" stroke="none"/>
<text transform="translate(374.2,309.9) rotate(-90)" font-family="Liberation Sans, sans-serif" font-weight="bold" font-size="9.6" stroke="#000" stroke-width="0.3" textLength="11.5" lengthAdjust="spacingAndGlyphs">8.0</text>
<line x1="278.7" y1="344.7" x2="288.3" y2="344.7" stroke="#000" stroke-width="1.1"/>
<line x1="295" y1="344.7" x2="317" y2="344.7" stroke="#000" stroke-width="1.1"/>
<polygon points="288.3,344.7 284.1,343.09999999999997 284.1,346.3" fill="#000" stroke="none"/>
<polygon points="295,344.7 299.2,343.09999999999997 299.2,346.3" fill="#000" stroke="none"/>
<text x="305.3" y="342.9" font-family="Liberation Sans, sans-serif" font-weight="bold" font-size="9.6" stroke="#000" stroke-width="0.3" textLength="10" lengthAdjust="spacingAndGlyphs">1.0</text>
</g>
<defs><pattern id="h" patternUnits="userSpaceOnUse" width="4.2" height="4.2" patternTransform="rotate(40)"><line x1="0" y1="0" x2="0" y2="4.2" stroke="#5a5a5a" stroke-width="1"/></pattern></defs>
<path d="M559.3 273.5 Q559.6 271.2 562 271.2 L565.6 271.2 L565.6 308.5 L566.2 308.5 L566.2 320.1 L556.3 320.1 L556.3 308.5 L558.8 306.5 Z" fill="url(#h)"/>
<rect x="572.2" y="310" width="16.1" height="10.1" fill="url(#h)"/>
<rect x="593.3" y="310" width="15.9" height="10.1" fill="url(#h)"/>
<path d="M616 271.6 L621.9 271.6 L622.2 306.5 L624.3 308.5 L624.3 320.1 L615.2 320.1 L615.2 271.6 Z" fill="url(#h)"/>
<g stroke="#707070" fill="none" stroke-width="0.9">
<line x1="552" y1="222" x2="629.3" y2="222"/>
<line x1="552" y1="218.5" x2="552" y2="231"/>
<line x1="629.3" y1="218.5" x2="629.3" y2="231"/>
<line x1="630" y1="232.3" x2="650" y2="232.3"/>
<line x1="647.3" y1="232.3" x2="647.3" y2="344"/>
<line x1="631" y1="320" x2="650" y2="320"/>
<line x1="594" y1="344" x2="650" y2="344"/>
<line x1="550.6" y1="320" x2="550.6" y2="364"/>
<line x1="630.6" y1="320" x2="630.6" y2="364"/>
<line x1="550.6" y1="362" x2="630.6" y2="362"/>
<line x1="550.6" y1="347" x2="590.5" y2="347"/>
<line x1="579" y1="334" x2="588.3" y2="334"/>
<line x1="593.3" y1="334" x2="621.7" y2="334"/>
<path d="M551 320 L552 236 Q552 232.3 555.5 232.3 L626 232.3 Q629.5 232.3 629.5 236 L630.4 320"/>
<path d="M553.8 320 L554.6 238.2 Q554.6 234.7 558 234.7 L623.6 234.7 Q627 234.7 627 238.2 L627.8 320"/>
<circle cx="552.6" cy="232.9" r="1.3"/><circle cx="628.9" cy="232.9" r="1.3"/>
<line x1="550.6" y1="320.1" x2="631" y2="320.1" stroke-width="1.1"/>
<path d="M573.5 261 L573.5 253.2 Q573.5 248.3 578.4 248.3 L602.8 248.3 Q607.7 248.3 607.7 253.2 L607.7 261 Z" stroke-width="1"/>
<path d="M581.3 248.3 Q584 255.5 590.4 258.9 Q597 255.5 599.8 248.3"/>
<path d="M587.2 248.3 L587.2 254.6 L593.9 254.6 L593.9 248.3"/>
<line x1="573.5" y1="259.6" x2="607.7" y2="259.6"/>
<path d="M585.3 261.3 L587 264.8 L594.6 264.8 L596.3 261.3" stroke-width="1"/>
<path d="M571.4 269 L571.4 262 L610.2 262 L610.2 269"/>
<line x1="571.4" y1="268.8" x2="610.2" y2="268.8" stroke="#555" stroke-width="1.1"/>
<path d="M567 309.5 L567 275 Q567 270.2 571.8 270.2 L610.3 270.2 Q615 270.2 615 275 L615 309.5"/>
<path d="M572.1 310.7 L572.1 273.8 M576.3 300.5 L576.3 273.8 M604.2 308.2 L604.2 273.8 M609.4 303 L609.4 273.8 M612.2 309.5 L612.2 273.8"/>
<path d="M578.5 270.2 L578.5 280 L581 280 M602.5 270.2 L602.5 280 L600 280"/>
<path d="M567 276.5 L572.1 276.5 M567 279 L572.1 279 M567 290 L572.1 290 M567 292.5 L572.1 292.5 M610 281 L615 281 M610 290 L615 290"/>
<path d="M559.3 273.5 Q559.6 271.2 562 271.2 L565.6 271.2 L565.6 308.5 M558.8 306.5 L559.3 273.5 M556.3 320.1 L556.3 308.5 L558.8 306.5 M556.3 308.5 L566.2 308.5"/>
<path d="M615.2 320.1 L615.2 271.6 L621.9 271.6 L622.2 306.5 L624.3 308.5 L624.3 320.1 M615.2 308.5 L624.3 308.5"/>
<path d="M566.2 310 L588.3 310 M593.3 310 L615.2 310 M566.2 308.5 L566.2 320.1 M572.2 310 L572.2 320.1 M609.2 310 L609.2 320.1"/>
<path d="M588.3 320.3 L588.3 308.5 Q588.3 304.8 592 304.8 L609.4 304.8 L609.4 303"/>
<path d="M593.3 320.3 L593.3 310.2 Q593.3 309.2 594.5 309.2 L604.2 309.2 L604.2 308.2"/>
<path d="M588.3 320.2 L588.3 344.3 L593.5 344.3 L593.5 320.2 M588.3 341.6 L593.5 341.6"/>
<line x1="590.8" y1="312" x2="590.8" y2="344" stroke-dasharray="3 1.2 1 1.2" stroke-width="0.7"/>
</g>
<rect x="581" y="268.6" width="19" height="28.4" fill="#fff" stroke="none"/>
<path d="M581.3 270.00 Q590.5 269.70 599.8 271.00" fill="none" stroke="#707070" stroke-width="1.35"/>
<circle cx="581.6" cy="270.10" r="0.9" fill="#3a3a3a"/>
<circle cx="599.5" cy="270.90" r="0.9" fill="#3a3a3a"/>
<path d="M581.3 272.36 Q590.5 272.06 599.8 273.36" fill="none" stroke="#707070" stroke-width="1.35"/>
<circle cx="581.6" cy="272.46" r="0.9" fill="#3a3a3a"/>
<circle cx="599.5" cy="273.26" r="0.9" fill="#3a3a3a"/>
<path d="M581.3 274.72 Q590.5 274.42 599.8 275.72" fill="none" stroke="#707070" stroke-width="1.35"/>
<circle cx="581.6" cy="274.82" r="0.9" fill="#3a3a3a"/>
<circle cx="599.5" cy="275.62" r="0.9" fill="#3a3a3a"/>
<path d="M581.3 277.08 Q590.5 276.78 599.8 278.08" fill="none" stroke="#707070" stroke-width="1.35"/>
<circle cx="581.6" cy="277.18" r="0.9" fill="#3a3a3a"/>
<circle cx="599.5" cy="277.98" r="0.9" fill="#3a3a3a"/>
<path d="M581.3 279.44 Q590.5 279.14 599.8 280.44" fill="none" stroke="#707070" stroke-width="1.35"/>
<circle cx="581.6" cy="279.54" r="0.9" fill="#3a3a3a"/>
<circle cx="599.5" cy="280.34" r="0.9" fill="#3a3a3a"/>
<path d="M581.3 281.80 Q590.5 281.50 599.8 282.80" fill="none" stroke="#707070" stroke-width="1.35"/>
<circle cx="581.6" cy="281.90" r="0.9" fill="#3a3a3a"/>
<circle cx="599.5" cy="282.70" r="0.9" fill="#3a3a3a"/>
<path d="M581.3 284.16 Q590.5 283.86 599.8 285.16" fill="none" stroke="#707070" stroke-width="1.35"/>
<circle cx="581.6" cy="284.26" r="0.9" fill="#3a3a3a"/>
<circle cx="599.5" cy="285.06" r="0.9" fill="#3a3a3a"/>
<path d="M581.3 286.52 Q590.5 286.22 599.8 287.52" fill="none" stroke="#707070" stroke-width="1.35"/>
<circle cx="581.6" cy="286.62" r="0.9" fill="#3a3a3a"/>
<circle cx="599.5" cy="287.42" r="0.9" fill="#3a3a3a"/>
<path d="M581.3 288.88 Q590.5 288.58 599.8 289.88" fill="none" stroke="#707070" stroke-width="1.35"/>
<circle cx="581.6" cy="288.98" r="0.9" fill="#3a3a3a"/>
<circle cx="599.5" cy="289.78" r="0.9" fill="#3a3a3a"/>
<path d="M581.3 291.24 Q590.5 290.94 599.8 292.24" fill="none" stroke="#707070" stroke-width="1.35"/>
<circle cx="581.6" cy="291.34" r="0.9" fill="#3a3a3a"/>
<circle cx="599.5" cy="292.14" r="0.9" fill="#3a3a3a"/>
<path d="M581.3 293.60 Q590.5 293.30 599.8 294.60" fill="none" stroke="#707070" stroke-width="1.35"/>
<circle cx="581.6" cy="293.70" r="0.9" fill="#3a3a3a"/>
<circle cx="599.5" cy="294.50" r="0.9" fill="#3a3a3a"/>
<path d="M581.3 295.96 Q590.5 295.66 599.8 296.96" fill="none" stroke="#707070" stroke-width="1.35"/>
<circle cx="581.6" cy="296.06" r="0.9" fill="#3a3a3a"/>
<circle cx="599.5" cy="296.86" r="0.9" fill="#3a3a3a"/>
<line x1="582" y1="268.9" x2="599" y2="268.9" stroke="#444" stroke-width="1.2"/>
<line x1="581.5" y1="296.6" x2="599.5" y2="296.6" stroke="#555" stroke-width="1"/>
<polygon points="552.5,222 556.7,220.7 556.7,223.3" fill="#222" stroke="none"/>
<polygon points="628.8,222 624.5999999999999,220.7 624.5999999999999,223.3" fill="#222" stroke="none"/>
<polygon points="647.3,232.8 646.0,237.0 648.5999999999999,237.0" fill="#222" stroke="none"/>
<polygon points="647.3,319.5 646.0,315.3 648.5999999999999,315.3" fill="#222" stroke="none"/>
<polygon points="647.3,320.6 646.0,324.8 648.5999999999999,324.8" fill="#222" stroke="none"/>
<polygon points="647.3,343.5 646.0,339.3 648.5999999999999,339.3" fill="#222" stroke="none"/>
<polygon points="551.1,347 555.3000000000001,345.7 555.3000000000001,348.3" fill="#222" stroke="none"/>
<polygon points="590,347 585.8,345.7 585.8,348.3" fill="#222" stroke="none"/>
<polygon points="551.1,362 555.3000000000001,360.7 555.3000000000001,363.3" fill="#222" stroke="none"/>
<polygon points="630.1,362 625.9,360.7 625.9,363.3" fill="#222" stroke="none"/>
<polygon points="588,334 583.8,332.7 583.8,335.3" fill="#222" stroke="none"/>
<polygon points="593.6,334 597.8000000000001,332.7 597.8000000000001,335.3" fill="#222" stroke="none"/>
<text x="583.3" y="220" font-family="Liberation Sans, sans-serif" fill="#555" font-size="10" textLength="14.8" lengthAdjust="spacingAndGlyphs">12.5</text>
<text x="564.6" y="345.6" font-family="Liberation Sans, sans-serif" fill="#555" font-size="10" textLength="12.3" lengthAdjust="spacingAndGlyphs">6.5</text>
<text x="583.2" y="360" font-family="Liberation Sans, sans-serif" fill="#555" font-size="10" textLength="15.2" lengthAdjust="spacingAndGlyphs">13.0</text>
<text x="607.6" y="332.6" font-family="Liberation Sans, sans-serif" fill="#555" font-size="10" textLength="11.8" lengthAdjust="spacingAndGlyphs">0.8</text>
<text transform="translate(645.6,283.3) rotate(-90)" font-family="Liberation Sans, sans-serif" fill="#555" font-size="10" textLength="15.2" lengthAdjust="spacingAndGlyphs">14.5</text>
<text transform="translate(645.2,338.8) rotate(-90)" font-family="Liberation Sans, sans-serif" fill="#555" font-size="10" textLength="12.8" lengthAdjust="spacingAndGlyphs">4.0</text>
</svg>
</body></html>
